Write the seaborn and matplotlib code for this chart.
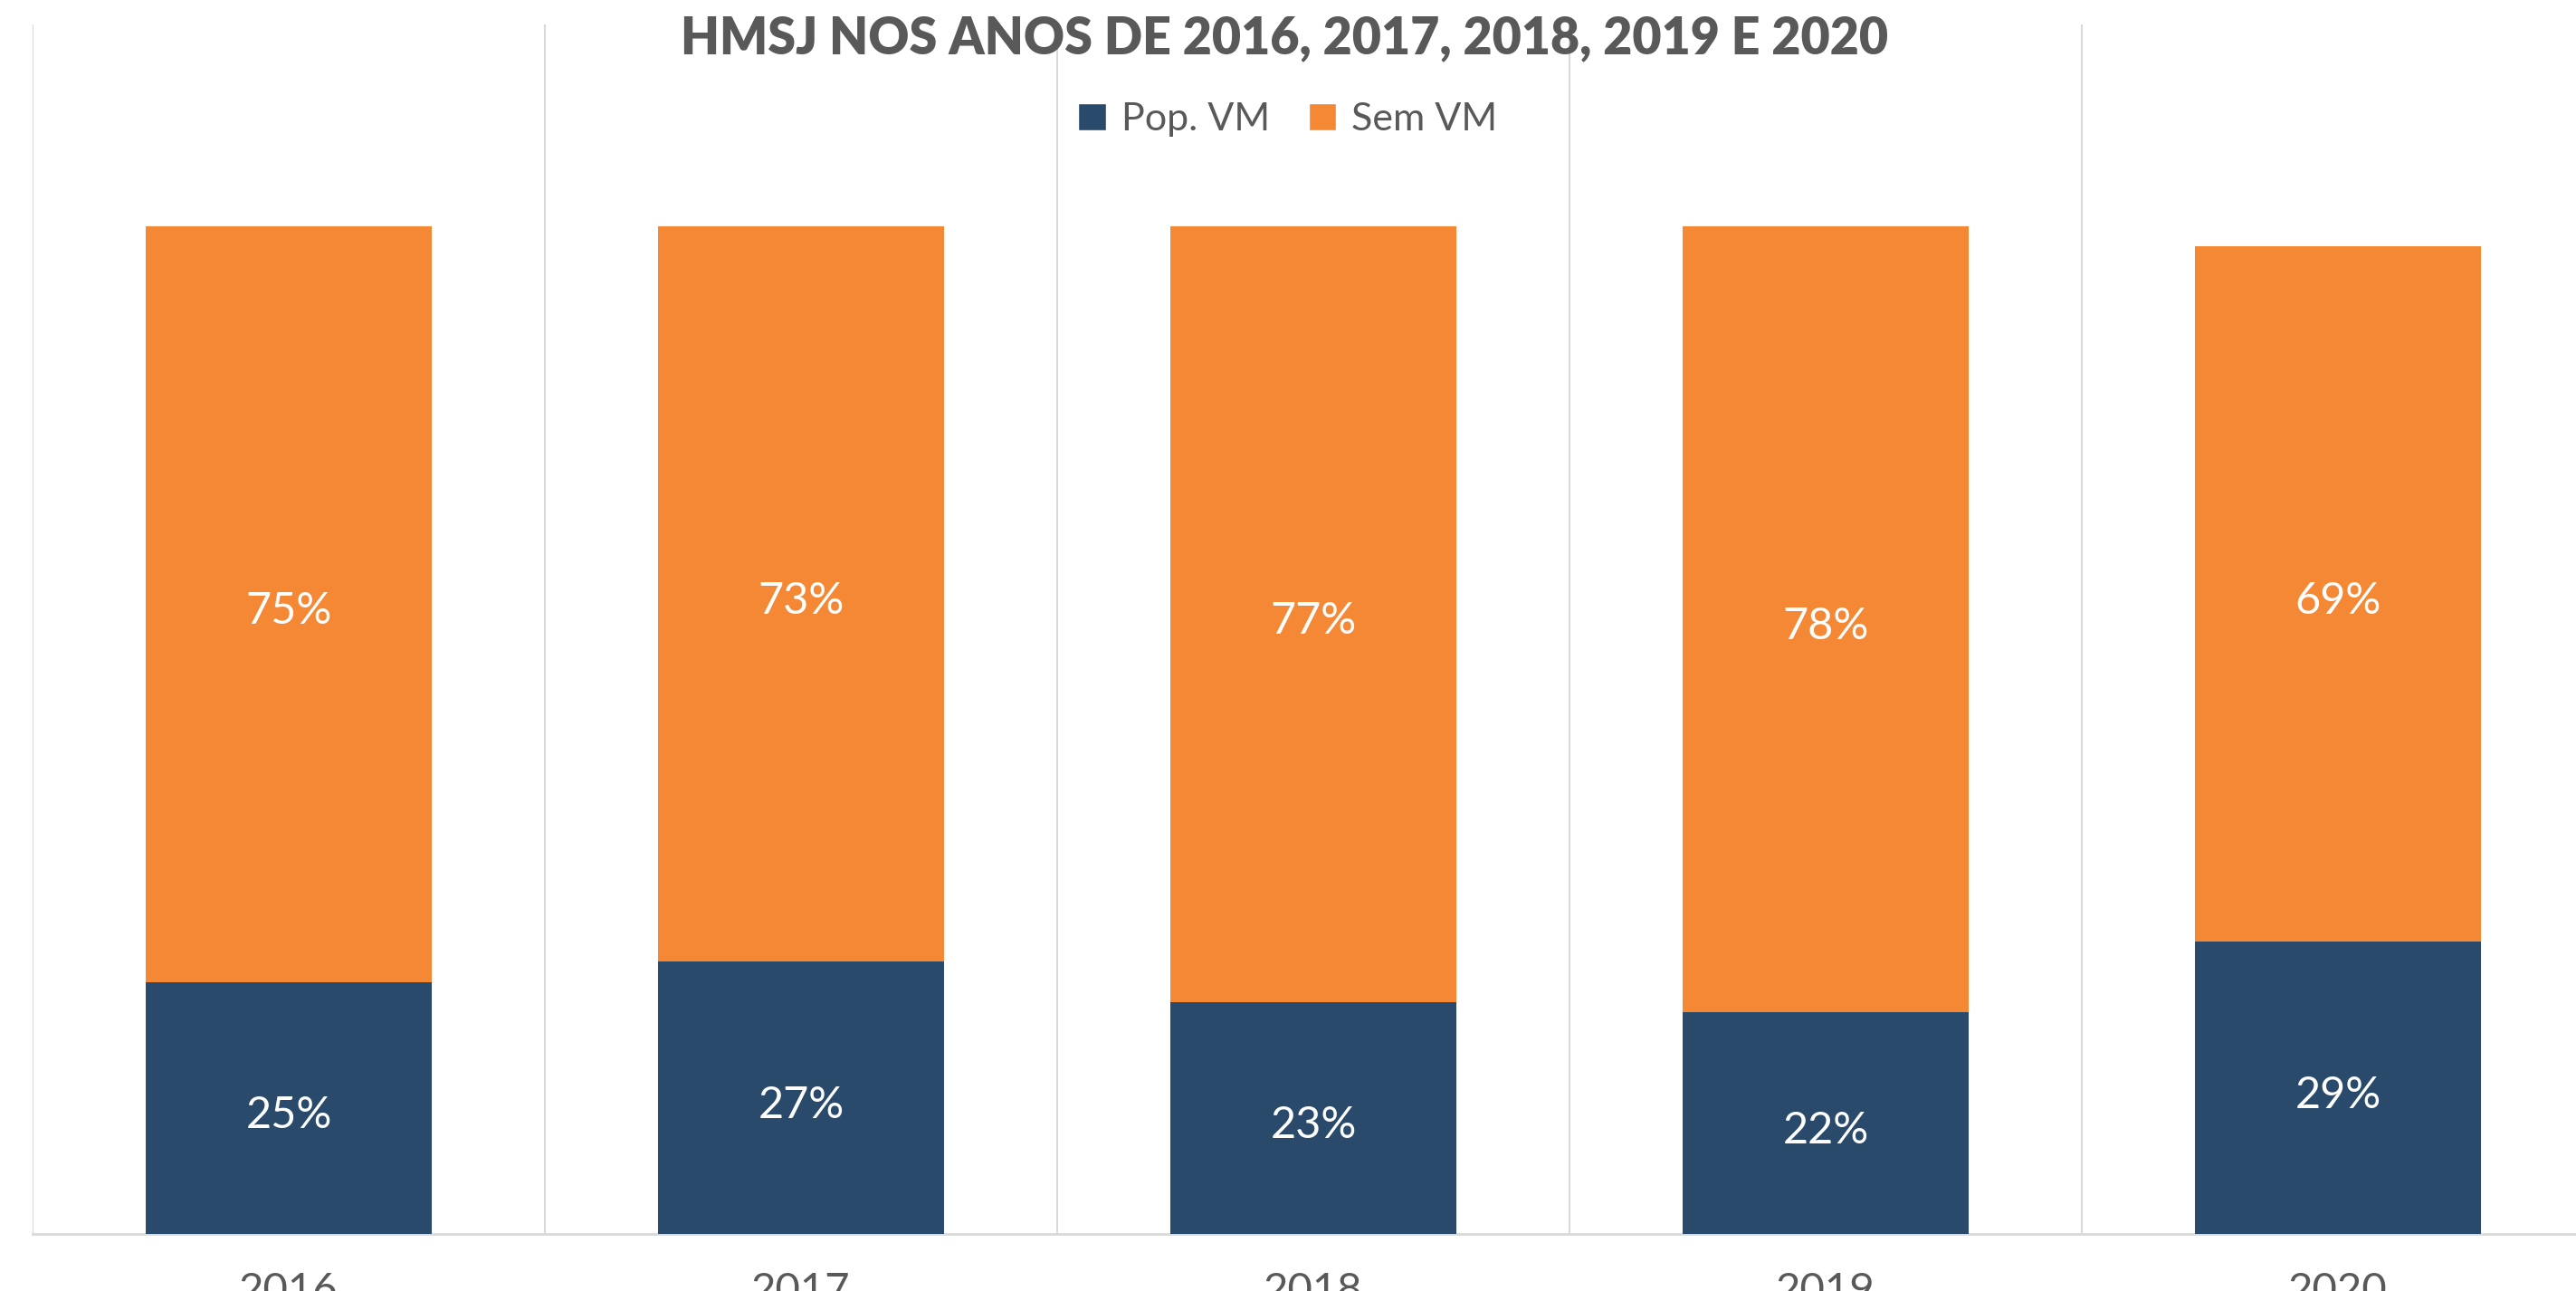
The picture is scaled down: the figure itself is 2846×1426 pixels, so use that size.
import matplotlib
matplotlib.use("Agg")
import matplotlib.pyplot as plt
import seaborn as sns
import pandas as pd
from matplotlib.patches import Patch
from matplotlib.transforms import offset_copy

years = ["2016", "2017", "2018", "2019", "2020"]
pop_vm = [0.25, 0.27, 0.23, 0.22, 0.29]
sem_vm = [0.75, 0.73, 0.77, 0.78, 0.69]
series_names = ["Pop. VM", "Sem VM"]
title = "HMSJ NOS ANOS DE 2016, 2017, 2018, 2019 E 2020"

BLUE = "#294A6B"
ORANGE = "#F58835"
GRID = "#D9D9D9"
TEXT = "#595959"

sns.set_theme(style="white")
plt.rcParams["font.family"] = ["Lato", "DejaVu Sans"]

df = pd.DataFrame({"year": years, "pop": pop_vm, "sem": sem_vm})
df["total"] = df["pop"] + df["sem"]

W, H, DPI = 2846, 1426, 100
fig = plt.figure(figsize=(W / DPI, H / DPI), dpi=DPI)
ax = fig.add_axes([36 / W, 1 - 1363 / H, 2830 / W, 1336 / H])

bar_w = 0.558
# stacked: total in orange first, then the bottom segment in blue on top
sns.barplot(data=df, x="year", y="total", color=ORANGE, width=bar_w,
            saturation=1, ax=ax, zorder=2)
sns.barplot(data=df, x="year", y="pop", color=BLUE, width=bar_w,
            saturation=1, ax=ax, zorder=3)
for p in ax.patches:
    p.set_edgecolor("none")

ax.set_xlim(-0.5, 4.5)
ax.set_ylim(0, 1.2)
ax.set_xlabel("")
ax.set_ylabel("")
ax.set_yticks([])

# category boundary lines
ax.set_xticks([i - 0.5 for i in range(len(years) + 1)], minor=True)
ax.grid(which="minor", axis="x", color=GRID, linewidth=1.5, zorder=0)
ax.tick_params(axis="x", which="both", length=0, pad=30,
               labelsize=34, labelcolor=TEXT)

for side in ["top", "right", "left"]:
    ax.spines[side].set_visible(False)
ax.spines["bottom"].set_color(GRID)
ax.spines["bottom"].set_linewidth(2)

# data labels, nudged a bit down like the original
lbl_tr = offset_copy(ax.transData, fig=fig, y=-8, units="dots")
for i in range(len(years)):
    ax.text(i, pop_vm[i] / 2, f"{pop_vm[i] * 100:.0f}%", ha="center",
            va="center", color="white", fontsize=35, zorder=4,
            transform=lbl_tr)
    ax.text(i, pop_vm[i] + sem_vm[i] / 2, f"{sem_vm[i] * 100:.0f}%",
            ha="center", va="center", color="white", fontsize=35, zorder=4,
            transform=lbl_tr)

fig.text(0.4985, 1 - 42 / H, title, ha="center", va="center",
         fontsize=40, fontweight="heavy", color=TEXT)

handles = [Patch(facecolor=BLUE, label=series_names[0]),
           Patch(facecolor=ORANGE, label=series_names[1])]
fig.legend(handles=handles, loc="center", bbox_to_anchor=(0.5, 1 - 132 / H),
           ncol=2, frameon=False, fontsize=31, labelcolor=TEXT,
           handlelength=0.7, handleheight=0.7, handletextpad=0.4,
           columnspacing=1.0)

fig.savefig("out.png", dpi=DPI, facecolor="white")
